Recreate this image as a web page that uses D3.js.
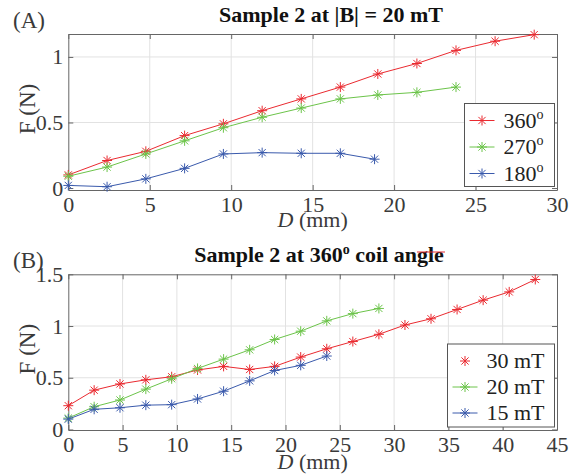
<!DOCTYPE html>
<html>
<head>
<meta charset="utf-8">
<script src="https://cdn.jsdelivr.net/npm/d3@7"></script>
<style>
  body { margin: 0; background: #fff; }
  text { font-family: "Liberation Serif", "Times New Roman", serif; }
</style>
</head>
<body>
<div id="chart"></div>
<script>
// data
var distA = [0, 2.38, 4.76, 7.14, 9.52, 11.9, 14.3, 16.7, 19.0, 21.4, 23.8, 26.2, 28.6];
var f360 = [0.10, 0.21, 0.28, 0.40, 0.49, 0.59, 0.68, 0.77, 0.87, 0.95, 1.05, 1.12, 1.17];
var f270 = [0.09, 0.16, 0.26, 0.36, 0.46, 0.54, 0.61, 0.68, 0.71, 0.73, 0.77];
var dist180 = [0, 2.38, 4.76, 7.14, 9.52, 11.9, 14.3, 16.7, 18.8];
var f180 = [0.02, 0.01, 0.07, 0.15, 0.26, 0.27, 0.265, 0.265, 0.22];

var distB = [0, 2.38, 4.76, 7.14, 9.52, 11.9, 14.3, 16.7, 19.0, 21.4, 23.8, 26.2, 28.6, 31.0, 33.4, 35.8, 38.2, 40.6, 43.0];
var f30mT = [0.23, 0.38, 0.44, 0.48, 0.51, 0.575, 0.61, 0.58, 0.61, 0.70, 0.78, 0.85, 0.92, 1.01, 1.07, 1.16, 1.25, 1.33, 1.45];
var f20mT = [0.11, 0.22, 0.285, 0.39, 0.49, 0.59, 0.68, 0.77, 0.87, 0.95, 1.05, 1.12, 1.17];
var f15mT = [0.10, 0.195, 0.21, 0.235, 0.24, 0.295, 0.37, 0.47, 0.57, 0.62, 0.71];

var xTicksA = [0, 5, 10, 15, 20, 25, 30];
var yTicksA = [0, 0.5, 1];
var xTicksB = [0, 5, 10, 15, 20, 25, 30, 35, 40, 45];
var yTicksB = [0, 0.5, 1, 1.5];

var red = "#ea2a30", green = "#6cc44a", blue = "#3a5aac";
var serif = "Liberation Serif, Times New Roman, serif";

var svg = d3.select("#chart").append("svg")
  .attr("width", 580)
  .attr("height", 475);

svg.append("rect").attr("width", 580).attr("height", 475).attr("fill", "#fff");

function zip(xs, ys) {
  return ys.map(function(y, i) { return { x: xs[i], y: y }; });
}

// asterisk marker like matlab '*'
function asterisk(g, cx, cy, color, r) {
  r = r || 5;
  var d = r * 0.72;
  g.append("path")
    .attr("d", "M" + (cx - r) + "," + cy + "H" + (cx + r) +
      "M" + cx + "," + (cy - r) + "V" + (cy + r) +
      "M" + (cx - d) + "," + (cy - d) + "L" + (cx + d) + "," + (cy + d) +
      "M" + (cx - d) + "," + (cy + d) + "L" + (cx + d) + "," + (cy - d))
    .attr("stroke", color)
    .attr("stroke-width", 1)
    .attr("fill", "none");
}

function drawPanel(p) {
  var x = d3.scaleLinear().domain(p.xDomain).range([p.left, p.right]);
  var y = d3.scaleLinear().domain(p.yDomain).range([p.bottom, p.top]);
  var g = svg.append("g");

  // grid
  g.selectAll(".gx").data(p.xTicks.slice(1, -1)).enter().append("line")
    .attr("x1", d => x(d)).attr("x2", d => x(d))
    .attr("y1", p.top).attr("y2", p.bottom)
    .attr("stroke", "#e2e2e2").attr("stroke-width", 1);
  g.selectAll(".gy").data(p.yTicks.filter(d => y(d) > p.top + 1 && y(d) < p.bottom - 3)).enter().append("line")
    .attr("x1", p.left).attr("x2", p.right)
    .attr("y1", d => y(d)).attr("y2", d => y(d))
    .attr("stroke", "#e2e2e2").attr("stroke-width", 1);

  // axes
  var bottomAxis = d3.axisBottom(x).tickValues(p.xTicks).tickSizeInner(-5).tickSizeOuter(0).tickPadding(6);
  var topAxis = d3.axisTop(x).tickValues(p.xTicks).tickSizeInner(-5).tickSizeOuter(0).tickFormat("");
  var leftAxis = d3.axisLeft(y).tickValues(p.yTicks).tickSizeInner(-5).tickSizeOuter(0).tickPadding(5)
    .tickFormat(d3.format("~g"));
  var rightAxis = d3.axisRight(y).tickValues(p.yTicks).tickSizeInner(-5).tickSizeOuter(0).tickFormat("");

  var axes = [
    g.append("g").attr("transform", `translate(0, ${p.bottom})`).call(bottomAxis),
    g.append("g").attr("transform", `translate(0, ${p.top})`).call(topAxis),
    g.append("g").attr("transform", `translate(${p.left}, 0)`).call(leftAxis),
    g.append("g").attr("transform", `translate(${p.right}, 0)`).call(rightAxis)
  ];
  axes.forEach(function(a) {
    a.attr("font-family", serif);
    a.select(".domain").attr("stroke", "#666");
    a.selectAll(".tick line").attr("stroke", "#666");
    a.selectAll(".tick text").attr("fill", "#3a3a3a").attr("font-size", "22px");
  });

  // series
  var line = d3.line().x(d => x(d.x)).y(d => y(d.y));
  p.series.forEach(function(s) {
    var pts = zip(s.xs, s.ys);
    g.append("path").datum(pts)
      .attr("d", line)
      .attr("fill", "none")
      .attr("stroke", s.color)
      .attr("stroke-width", 1);
    pts.forEach(function(d) { asterisk(g, x(d.x), y(d.y), s.color); });
  });

  // labels
  svg.append("text")
    .attr("x", 13).attr("y", p.top - 6)
    .attr("font-size", "23px").attr("fill", "#3a3a3a")
    .text(p.tag);

  var title = svg.append("text")
    .attr("x", p.titleX).attr("y", p.top - 12)
    .attr("text-anchor", "middle")
    .attr("font-size", "22px").attr("font-weight", "bold").attr("fill", "#111");
  p.title.forEach(function(t) {
    var ts = title.append("tspan").text(t.text);
    if (t.sup) ts.attr("font-size", "14px").attr("dy", -8);
    if (t.after) ts.attr("dy", 8);
  });

  svg.append("text")
    .attr("transform", `translate(35, ${(p.top + p.bottom) / 2 - 3}) rotate(-90)`)
    .attr("text-anchor", "middle")
    .attr("font-size", "23px").attr("fill", "#3a3a3a")
    .text("F (N)");

  var xl = svg.append("text")
    .attr("x", (p.left + p.right) / 2).attr("y", p.bottom + p.xLabelDy)
    .attr("text-anchor", "middle")
    .attr("font-size", "22px").attr("fill", "#3a3a3a");
  xl.append("tspan").attr("font-style", "italic").text("D");
  xl.append("tspan").text(" (mm)");

  // legend
  var lg = svg.append("g");
  lg.append("rect")
    .attr("x", p.legend.x).attr("y", p.legend.y)
    .attr("width", p.legend.w).attr("height", p.legend.h)
    .attr("fill", "#fff").attr("stroke", "#555").attr("stroke-width", 1);
  p.series.forEach(function(s, i) {
    var ly = p.legend.y + 17 + i * p.legend.step;
    var lx = p.legend.x + 5;
    if (!s.noLegendLine) {
      lg.append("line").attr("x1", lx).attr("x2", lx + 25)
        .attr("y1", ly).attr("y2", ly)
        .attr("stroke", s.color).attr("stroke-width", 1);
    }
    asterisk(lg, lx + 12.5, ly, s.color);
    var t = lg.append("text").attr("x", lx + 34).attr("y", ly + 7)
      .attr("font-size", "22px").attr("fill", "#222");
    t.append("tspan").text(s.label);
    if (s.sup) t.append("tspan").attr("font-size", "14px").attr("dy", -9).text(s.sup);
  });
  return { x: x, y: y };
}

drawPanel({
  tag: "(A)",
  left: 68.3, right: 557, top: 34, bottom: 190,
  xDomain: [0, 30], yDomain: [-0.015, 1.175],
  xTicks: xTicksA, yTicks: yTicksA,
  titleX: 331, xLabelDy: 37,
  title: [{ text: "Sample 2 at |B| = 20 mT" }],
  series: [
    { xs: distA, ys: f360, color: red, label: "360", sup: "o" },
    { xs: distA, ys: f270, color: green, label: "270", sup: "o" },
    { xs: dist180, ys: f180, color: blue, label: "180", sup: "o" }
  ],
  legend: { x: 464.5, y: 103.5, w: 90, h: 83, step: 26.5 }
});

drawPanel({
  tag: "(B)",
  left: 68.3, right: 557, top: 274.3, bottom: 430,
  xDomain: [0, 45], yDomain: [-0.005, 1.5],
  xTicks: xTicksB, yTicks: yTicksB,
  titleX: 319, xLabelDy: 39,
  title: [{ text: "Sample 2 at 360" }, { text: "o", sup: true }, { text: " coil angle", after: true }],
  series: [
    { xs: distB, ys: f30mT, color: red, label: "30 mT", noLegendLine: true },
    { xs: distB, ys: f20mT, color: green, label: "20 mT" },
    { xs: distB, ys: f15mT, color: blue, label: "15 mT" }
  ],
  legend: { x: 447.5, y: 344, w: 107, h: 83, step: 26 }
});

// stray legend line sitting on the second title
svg.append("line")
  .attr("x1", 417).attr("x2", 445)
  .attr("y1", 252).attr("y2", 252)
  .attr("stroke", red).attr("stroke-width", 1);
</script>
</body>
</html>
